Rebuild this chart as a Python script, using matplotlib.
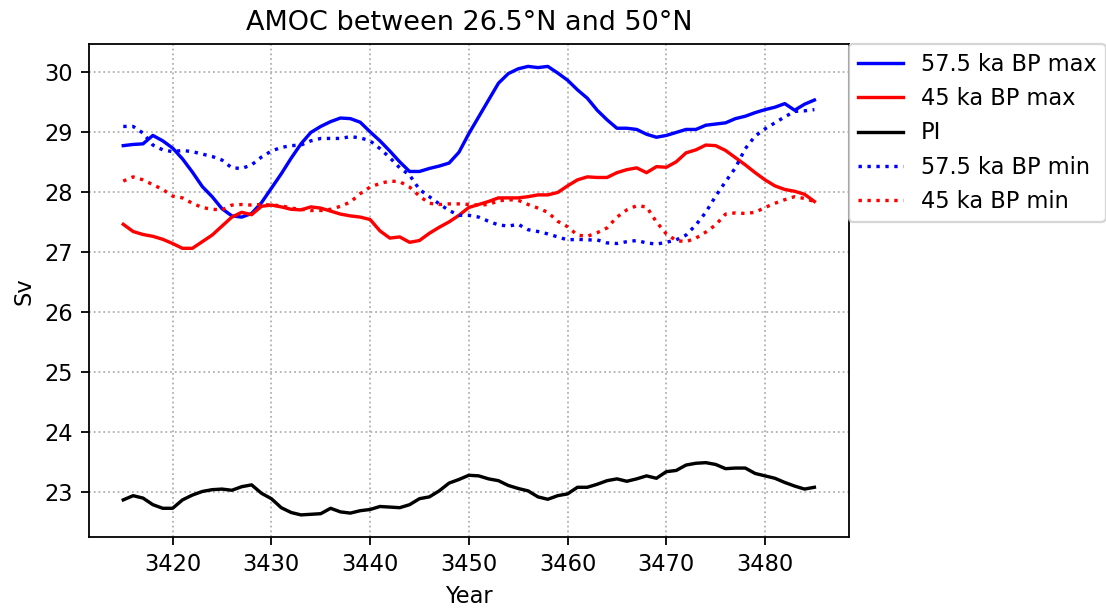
import matplotlib
matplotlib.use("Agg")
import matplotlib.pyplot as plt
import numpy as np

# Annual AMOC strength (Sv), years 3415-3485
years = np.arange(3415, 3486)

amoc_575_max = [
    28.77, 28.79, 28.80, 28.94, 28.85, 28.73, 28.55, 28.33, 28.09, 27.92,
    27.72, 27.60, 27.58, 27.64, 27.82, 28.06, 28.30, 28.56, 28.80, 28.99,
    29.09, 29.17, 29.23, 29.22, 29.16, 29.00, 28.85, 28.68, 28.50, 28.34,
    28.34, 28.39, 28.43, 28.48, 28.66, 28.97, 29.25, 29.53, 29.81, 29.97,
    30.05, 30.09, 30.07, 30.09, 29.98, 29.86, 29.70, 29.56, 29.36, 29.20,
    29.06, 29.06, 29.04, 28.96, 28.91, 28.94, 28.99, 29.04, 29.04, 29.11,
    29.13, 29.15, 29.22, 29.26, 29.32, 29.37, 29.41, 29.47, 29.36, 29.46,
    29.53,
]

amoc_45_max = [
    27.46, 27.34, 27.29, 27.26, 27.21, 27.14, 27.06, 27.06, 27.17, 27.28,
    27.43, 27.58, 27.66, 27.62, 27.76, 27.78, 27.75, 27.71, 27.70, 27.75,
    27.73, 27.68, 27.63, 27.60, 27.58, 27.54, 27.35, 27.23, 27.25, 27.16,
    27.19, 27.31, 27.41, 27.50, 27.61, 27.74, 27.79, 27.84, 27.90, 27.90,
    27.90, 27.92, 27.95, 27.95, 27.99, 28.10, 28.20, 28.25, 28.24, 28.24,
    28.32, 28.37, 28.40, 28.32, 28.42, 28.41, 28.50, 28.65, 28.70, 28.78,
    28.77, 28.69, 28.57, 28.45, 28.32, 28.20, 28.10, 28.04, 28.01, 27.96,
    27.84,
]

amoc_pi = [
    22.87, 22.94, 22.90, 22.79, 22.73, 22.73, 22.87, 22.95, 23.01, 23.04,
    23.05, 23.03, 23.09, 23.12, 22.98, 22.89, 22.74, 22.66, 22.62, 22.63,
    22.64, 22.73, 22.67, 22.65, 22.69, 22.71, 22.76, 22.75, 22.74, 22.79,
    22.89, 22.92, 23.02, 23.15, 23.21, 23.28, 23.27, 23.22, 23.19, 23.11,
    23.06, 23.02, 22.92, 22.88, 22.94, 22.97, 23.08, 23.08, 23.13, 23.19,
    23.22, 23.18, 23.22, 23.27, 23.23, 23.34, 23.36, 23.45, 23.48, 23.49,
    23.46, 23.39, 23.40, 23.40, 23.31, 23.27, 23.23, 23.16, 23.10, 23.05,
    23.08,
]

amoc_575_min = [
    29.09, 29.09, 28.98, 28.78, 28.70, 28.67, 28.69, 28.67, 28.63, 28.59,
    28.53, 28.40, 28.39, 28.45, 28.58, 28.68, 28.74, 28.77, 28.78, 28.85,
    28.89, 28.89, 28.89, 28.92, 28.90, 28.85, 28.72, 28.57, 28.40, 28.28,
    28.04, 27.92, 27.80, 27.69, 27.61, 27.61, 27.58, 27.51, 27.45, 27.43,
    27.46, 27.37, 27.34, 27.30, 27.25, 27.20, 27.21, 27.20, 27.20, 27.15,
    27.14, 27.17, 27.19, 27.15, 27.13, 27.16, 27.20, 27.28, 27.45, 27.66,
    27.93, 28.17, 28.40, 28.72, 28.93, 29.05, 29.15, 29.25, 29.34, 29.35,
    29.37,
]

amoc_45_min = [
    28.18, 28.25, 28.20, 28.12, 28.04, 27.93, 27.90, 27.81, 27.74, 27.71,
    27.70, 27.78, 27.79, 27.78, 27.79, 27.78, 27.77, 27.73, 27.71, 27.69,
    27.69, 27.71, 27.76, 27.83, 27.97, 28.08, 28.14, 28.18, 28.17, 28.08,
    27.93, 27.81, 27.79, 27.80, 27.80, 27.79, 27.78, 27.79, 27.85, 27.87,
    27.86, 27.79, 27.73, 27.66, 27.51, 27.42, 27.28, 27.26, 27.32, 27.40,
    27.58, 27.70, 27.77, 27.75, 27.50, 27.30, 27.19, 27.17, 27.23, 27.33,
    27.45, 27.63, 27.65, 27.64, 27.66, 27.74, 27.81, 27.87, 27.92, 27.89,
    27.84,
]

dpi = 162
fig = plt.figure(figsize=(1106 / dpi, 609 / dpi), dpi=dpi)
ax = fig.add_axes([0.0802, 0.1177, 0.6874, 0.8101])

ax.plot(years, amoc_575_max, color="blue", label="57.5 ka BP max")
ax.plot(years, amoc_45_max, color="red", label="45 ka BP max")
ax.plot(years, amoc_pi, color="black", label="PI")
ax.plot(years, amoc_575_min, color="blue", linestyle=":", label="57.5 ka BP min")
ax.plot(years, amoc_45_min, color="red", linestyle=":", label="45 ka BP min")

ax.set_title("AMOC between 26.5°N and 50°N", fontsize=12)
ax.set_xlabel("Year")
ax.set_ylabel("Sv")
ax.grid(True, linestyle=":", color="#b0b0b0", linewidth=0.8)
ax.legend(loc="upper left", bbox_to_anchor=(1, 1), borderaxespad=0)

fig.savefig("out.png", dpi=dpi)
